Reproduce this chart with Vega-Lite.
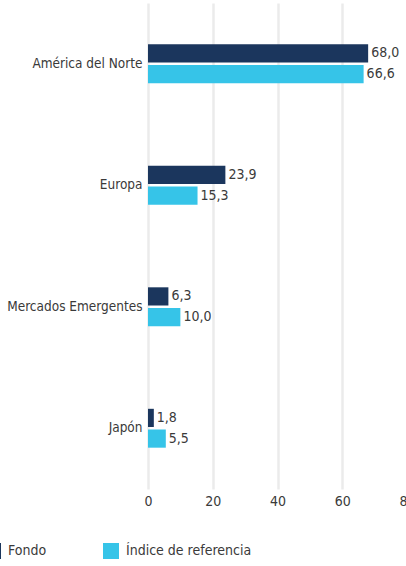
{
  "$schema": "https://vega.github.io/schema/vega-lite/v6.json",
  "autosize": "none",
  "width": 259,
  "height": 486,
  "padding": {"left": 148, "top": 3, "right": 0, "bottom": 77},
  "config": {
    "locale": {"number": {"decimal": ",", "thousands": ".", "grouping": [3], "currency": ["", " €"]}},
    "view": {"stroke": null},
    "font": "DejaVu Sans Condensed",
    "text": {"font": "DejaVu Sans Condensed"}
  },
  "data": {
    "values": [
      {"region": "América del Norte", "serie": "Fondo", "valor": 68.0},
      {"region": "América del Norte", "serie": "Índice de referencia", "valor": 66.6},
      {"region": "Europa", "serie": "Fondo", "valor": 23.9},
      {"region": "Europa", "serie": "Índice de referencia", "valor": 15.3},
      {"region": "Mercados Emergentes", "serie": "Fondo", "valor": 6.3},
      {"region": "Mercados Emergentes", "serie": "Índice de referencia", "valor": 10.0},
      {"region": "Japón", "serie": "Fondo", "valor": 1.8},
      {"region": "Japón", "serie": "Índice de referencia", "valor": 5.5}
    ]
  },
  "encoding": {
    "y": {
      "field": "region", "type": "nominal", "sort": null,
      "scale": {"paddingInner": 0.68, "paddingOuter": 0.34},
      "axis": {"title": null, "domain": false, "ticks": false, "labelPadding": 6, "labelFontSize": 13.5, "labelColor": "#3a3a3a", "labelFont": "DejaVu Sans Condensed"}
    },
    "yOffset": {"field": "serie", "type": "nominal", "scale": {"paddingInner": 0.12}},
    "x": {
      "field": "valor", "type": "quantitative",
      "scale": {"domain": [0, 80], "nice": false},
      "axis": {"title": null, "values": [0, 20, 40, 60, 80], "domain": false, "ticks": false, "grid": true, "gridColor": "#ebebeb", "gridWidth": 2.5, "labelPadding": 5, "labelFontSize": 14, "labelColor": "#3a3a3a", "labelFont": "DejaVu Sans Condensed", "labelFlush": false}
    }
  },
  "layer": [
    {
      "mark": {"type": "bar"},
      "encoding": {
        "color": {
          "field": "serie", "type": "nominal",
          "scale": {"domain": ["Fondo", "Índice de referencia"], "range": ["#1b365d", "#36c4e8"]},
          "legend": {"title": null, "orient": "none", "direction": "horizontal", "legendX": -163, "legendY": 540, "symbolType": "square", "symbolSize": 256, "symbolOpacity": 1, "symbolStrokeWidth": 0, "labelFontSize": 14, "labelColor": "#3a3a3a", "labelFont": "DejaVu Sans Condensed", "labelOffset": 7, "columnPadding": 56}
        }
      }
    },
    {
      "mark": {"type": "text", "align": "left", "dx": 3, "fontSize": 14, "color": "#3a3a3a", "font": "DejaVu Sans Condensed"},
      "encoding": {"text": {"field": "valor", "type": "quantitative", "format": ".1f"}}
    }
  ]
}
